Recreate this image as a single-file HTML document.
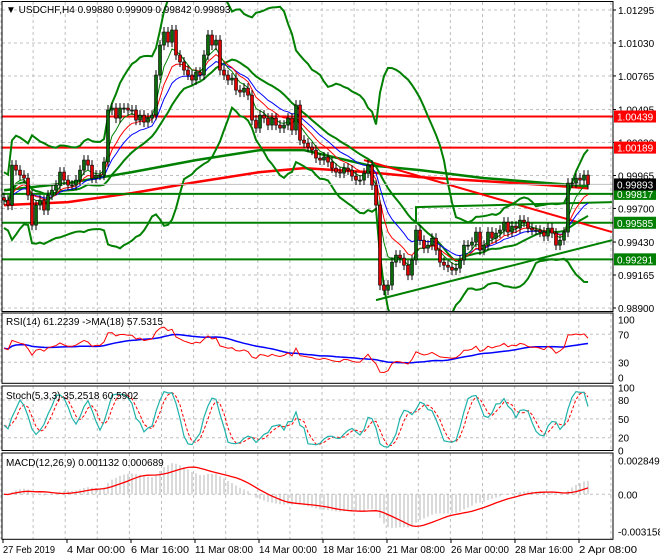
<!DOCTYPE html>
<html><head><meta charset="utf-8"><style>
html,body{margin:0;padding:0;background:#fff;width:660px;height:560px;overflow:hidden}
svg text{font-family:"Liberation Sans",sans-serif;font-size:10px}
</style></head><body>
<svg id="c" width="660" height="560" viewBox="0 0 660 560" xmlns="http://www.w3.org/2000/svg"></svg>
<script>
// ---- data (prices x 1e5) ----
const closes=[99767,99727,100048,100008,99968,99944,99807,99566,99727,99767,99687,99807,99847,99888,99992,99928,99888,99888,99928,100008,100089,100048,99944,99968,99968,100073,100491,100507,100426,100507,100507,100491,100491,100410,100450,100394,100426,100450,100772,101013,101118,101037,101134,100933,100877,100812,100772,100732,100796,100772,100933,101094,101013,101053,100812,100772,100732,100748,100651,100635,100667,100611,100410,100346,100450,100426,100370,100426,100370,100346,100370,100426,100330,100531,100249,100225,100193,100169,100105,100089,100113,100073,100024,99992,99984,100024,100008,99960,99928,99928,99984,100048,99888,99727,99084,99043,99084,99268,99325,99301,99244,99164,99285,99526,99445,99381,99405,99461,99365,99268,99244,99228,99204,99220,99285,99405,99405,99429,99510,99365,99405,99510,99461,99502,99526,99590,99510,99558,99542,99606,99590,99542,99526,99526,99510,99478,99542,99502,99405,99445,99510,99904,99904,99944,99928,99968,99893];
const longIdx=[0,16,32,48,64,75,91,104,120,136,146];
const ma100=[99847,99904,99992,100089,100169,100169,100048,100008,99944,99904,99880];
const ma200=[99727,99751,99823,99912,99992,100024,99992,99952,99920,99888,99863];
const priceTicks=[1.01295,1.01030,1.00765,1.00495,1.00230,0.99965,0.99700,0.99430,0.99165,0.98900];
const timeLabels=["27 Feb 2019","4 Mar 00:00","6 Mar 16:00","11 Mar 08:00","14 Mar 00:00","18 Mar 16:00","21 Mar 08:00","26 Mar 00:00","28 Mar 16:00","2 Apr 08:00"];
const hLevels=[{p:1.00439,c:"#ff0000",t:"1.00439"},{p:1.00189,c:"#ff0000",t:"1.00189"},{p:0.99817,c:"#008000",t:"0.99817"},{p:0.99585,c:"#008000",t:"0.99585"},{p:0.99291,c:"#008000",t:"0.99291"}];
const redTrend=[[90,1.00089],[152,0.99510]];
const greenTrend=[[93,0.98963],[152,0.99445]];
const greenChan=[[103,0.99711],[152,0.99751]];

const svg=document.getElementById('c');
const NS="http://www.w3.org/2000/svg";
function mk(tag,at,parent){const e=document.createElementNS(NS,tag);for(const k in at)e.setAttribute(k,at[k]);(parent||svg).appendChild(e);return e;}
const C=closes.map(v=>v/1e5);
const X=i=>4+i*4;
const Y=p=>10+(1.01295-p)*12442;
const RIGHT=613;
const defs=mk('defs',{});
const cp=mk('clipPath',{id:'mainclip'},defs);mk('rect',{x:2,y:2,width:611,height:309},cp);
[['rsiclip',313,70],['stclip',386,65],['mcclip',453,86]].forEach(a=>{const c=mk('clipPath',{id:a[0]},defs);mk('rect',{x:2,y:a[1],width:611,height:a[2]},c);});

function grid(y0,y1,ys,name){
  const g=mk('g',{});
  for(let x=1;x<RIGHT;x+=32.1)mk('line',{x1:x,y1:y0,x2:x,y2:y1,stroke:'#c0c0c0','stroke-dasharray':'3,3'},g);
  ys.forEach(y=>mk('line',{x1:2,y1:y,x2:RIGHT,y2:y,stroke:'#c0c0c0','stroke-dasharray':'3,3'},g));
}
grid(2,311,priceTicks.map(Y),'main-grid');
const main=mk('g',{'clip-path':'url(#mainclip)'});

function poly(pts,attrs,parent,name){const e=mk('polyline',Object.assign({points:pts.map(p=>p[0].toFixed(1)+','+p[1].toFixed(1)).join(' '),fill:'none'},attrs),parent);return e;}
function sma(a,n){return a.map((v,i)=>{const s=a.slice(Math.max(0,i-n+1),i+1);return s.reduce((x,y)=>x+y,0)/s.length;});}
function ema(a,n){const k=2/(n+1);let e=a[0];return a.map(v=>e=v*k+e*(1-k));}
function std(a,n){return a.map((v,i)=>{const s=a.slice(Math.max(0,i-n+1),i+1);const m=s.reduce((x,y)=>x+y,0)/s.length;return Math.sqrt(s.reduce((x,y)=>x+(y-m)*(y-m),0)/s.length);});}
poly(longIdx.map((i,k)=>[X(i),Y(ma200[k]/1e5)]),{stroke:'#ff0000','stroke-width':2.5},main,'ma200-line');
poly(longIdx.map((i,k)=>[X(i),Y(ma100[k]/1e5)]),{stroke:'#008000','stroke-width':2.5},main,'ma100-line');
hLevels.forEach(h=>{const l=mk('line',{x1:2,x2:RIGHT,y1:Y(h.p),y2:Y(h.p),stroke:h.c,'stroke-width':2},main);});
poly(redTrend.map(p=>[X(p[0]),Y(p[1])]),{stroke:'#ff0000','stroke-width':2},main,'red-trendline');
poly(greenTrend.map(p=>[X(p[0]),Y(p[1])]),{stroke:'#008000','stroke-width':2},main,'green-trendline');
poly([[X(greenChan[0][0]),Y(0.99585)],[X(greenChan[0][0]),Y(greenChan[0][1])],[X(greenChan[1][0]),Y(greenChan[1][1])]],{stroke:'#008000','stroke-width':2},main,'green-channel-line');
const mid=sma(C,20),sd=std(C,20).map(v=>Math.max(v,0.0008));
poly(C.map((v,i)=>[X(i),Y(mid[i]+2.8*sd[i])]),{stroke:'#008000','stroke-width':2},main,'bollinger-upper');
poly(C.map((v,i)=>[X(i),Y(mid[i]-2.8*sd[i])]),{stroke:'#008000','stroke-width':2},main,'bollinger-lower');
poly(C.map((v,i)=>[X(i),Y(mid[i])]),{stroke:'#008000','stroke-width':2},main,'bollinger-middle');
poly(ema(C,14).map((v,i)=>[X(i),Y(v)]),{stroke:'#0000ff','stroke-width':1},main,'ema-blue');
poly(ema(C,9).map((v,i)=>[X(i),Y(v)]),{stroke:'#ff0000','stroke-width':1},main,'ema-red');
poly(ema(C,5).map((v,i)=>[X(i),Y(v)]),{stroke:'#008000','stroke-width':1},main,'ema-green');
const pl=mk('line',{x1:2,x2:RIGHT,y1:Y(C[C.length-1]),y2:Y(C[C.length-1]),stroke:'#c0c0c0'},main);

const H=[],L=[];
C.forEach((c,i)=>{
  const o=i?C[i-1]:c+0.0002;const hi=Math.max(o,c)+0.0004,lo=Math.min(o,c)-0.0004;H.push(hi);L.push(lo);
  const g=mk('g',{},main);
  mk('line',{x1:X(i),x2:X(i),y1:Y(hi),y2:Y(lo),stroke:'#000'},g);
  const top=Y(Math.max(o,c)),bot=Y(Math.min(o,c));
  mk('rect',{x:X(i)-1.5,y:top,width:3,height:Math.max(1,bot-top),fill:c>=o?'#0a6b0a':'#e00000',stroke:'#000','stroke-width':0.6},g);
});
mk('rect',{x:2,y:1.5,width:RIGHT-2,height:310,fill:'none',stroke:'#000'});
const hdr=mk('text',{x:6,y:13,fill:'#000'});hdr.textContent='▼ USDCHF,H4  0.99880 0.99909 0.99842 0.99893';

priceTicks.forEach(p=>{const t=mk('text',{x:618,y:Y(p)+4,fill:'#000'});t.textContent=p.toFixed(5);mk('line',{x1:RIGHT,x2:RIGHT+3,y1:Y(p),y2:Y(p),stroke:'#000'});});
const tags=hLevels.concat([{p:C[C.length-1],c:'#000',t:C[C.length-1].toFixed(5)}]);
tags.forEach(h=>{const g=mk('g',{});
  mk('rect',{x:RIGHT+1,y:Y(h.p)-6,width:42,height:12,fill:h.c},g);
  const t=mk('text',{x:617,y:Y(h.p)+4,fill:'#fff'},g);t.textContent=h.t;});
// ---- RSI ----
const RY=v=>383.3-v*0.7;
grid(313,383,[RY(70),RY(30)],'rsi-grid');
const rsi=[];{let ag=0.0004,al=0.0004;for(let i=0;i<C.length;i++){const d=i?C[i]-C[i-1]:0;const g=Math.max(d,0),l=Math.max(-d,0);ag=(ag*13+g)/14;al=(al*13+l)/14;rsi.push(100-100/(1+ag/al));}}
const rg=mk('g',{'clip-path':'url(#rsiclip)'});
poly(sma(rsi,18).map((v,i)=>[X(i),RY(v)]),{stroke:'#0000ff','stroke-width':1.5},rg,'rsi-ma-line');
poly(rsi.map((v,i)=>[X(i),RY(v)]),{stroke:'#ff0000','stroke-width':1},rg,'rsi-line');
mk('rect',{x:2,y:313,width:RIGHT-2,height:70.3,fill:'none',stroke:'#000'});
[[100,'100'],[70,'70'],[30,'30'],[0,'0']].forEach(a=>{const t=mk('text',{x:618,y:RY(a[0])+(a[0]==100?10:a[0]==0?-2:4)});t.textContent=a[1];});
const rt=mk('text',{x:6,y:325});rt.textContent='RSI(14) 61.2239  ->MA(18) 57.5315';
// ---- Stochastic ----
const SY=v=>450.3-v*0.628;
grid(386,450,[SY(80),SY(50),SY(20)],'stoch-grid');
const raw=C.map((c,i)=>{const h=Math.max(...H.slice(Math.max(0,i-4),i+1)),l=Math.min(...L.slice(Math.max(0,i-4),i+1));return h>l?(c-l)/(h-l)*100:50;});
const K=sma(raw,3),D=sma(K,3);
const sg=mk('g',{'clip-path':'url(#stclip)'});
poly(D.map((v,i)=>[X(i),SY(v)]),{stroke:'#ff0000','stroke-width':1,'stroke-dasharray':'3,2'},sg,'stoch-signal');
poly(K.map((v,i)=>[X(i),SY(v)]),{stroke:'#20b2aa','stroke-width':1.2},sg,'stoch-main');
mk('rect',{x:2,y:386,width:RIGHT-2,height:64.5,fill:'none',stroke:'#000'});
[[100,'100'],[80,'80'],[50,'50'],[20,'20'],[0,'0']].forEach(a=>{const t=mk('text',{x:618,y:SY(a[0])+4});t.textContent=a[1];});
const st=mk('text',{x:6,y:399});st.textContent='Stoch(5,3,3) 35.2518 60.5902';
// ---- MACD ----
const MY=v=>494.3-v*11820;
grid(453,539,[MY(0)],'macd-grid');
const e12=ema(C,12),e26=ema(C,26);const macd=C.map((v,i)=>e12[i]-e26[i]);const sig=sma(macd,9);
const mg=mk('g',{'clip-path':'url(#mcclip)'});
macd.forEach((v,i)=>{const l=mk('line',{x1:X(i),x2:X(i),y1:MY(0),y2:MY(v),stroke:'#b4b4b4','stroke-width':1},mg);});
poly(sig.map((v,i)=>[X(i),MY(v)]),{stroke:'#ff0000','stroke-width':1.3},mg,'macd-signal');
mk('rect',{x:2,y:453,width:RIGHT-2,height:86.3,fill:'none',stroke:'#000'});
[[0.002849,'0.002849'],[0,'0.00'],[-0.003158,'-0.003158']].forEach(a=>{const t=mk('text',{x:618,y:MY(a[0])+4});t.textContent=a[1];});
const mt=mk('text',{x:6,y:466});mt.textContent='MACD(12,26,9) 0.001132 0.000689';
// ---- time axis ----
timeLabels.forEach((s,k)=>{const x=3+k*64;mk('line',{x1:x,x2:x,y1:539,y2:543,stroke:'#000'});
  const t=mk('text',{x:x,y:553,textLength:k==0?52:58,lengthAdjust:'spacingAndGlyphs'});t.textContent=s;});
</script>
</body></html>
